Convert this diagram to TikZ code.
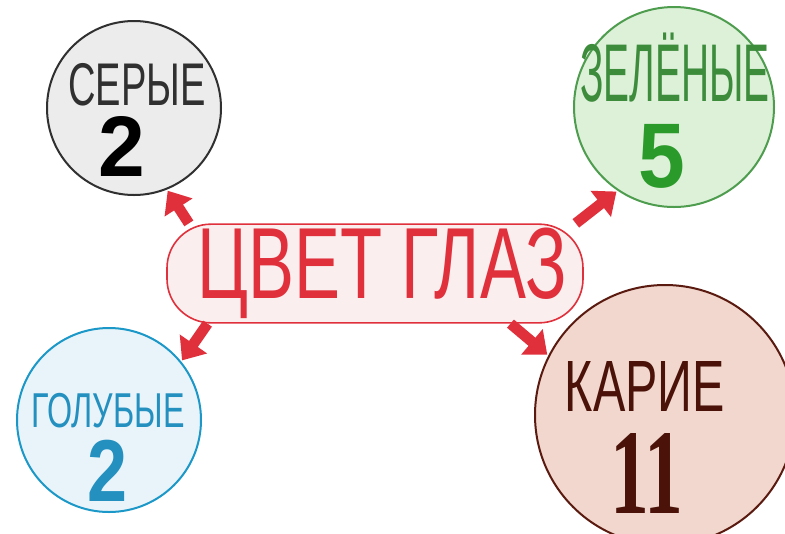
\documentclass[tikz,border=0pt]{standalone}
\usepackage{fontspec}
\usepackage{graphicx}
\setmainfont{Liberation Sans}
\newfontfamily\hand{Liberation Sans}
\newfontfamily\serifdig{Liberation Serif}
\usetikzlibrary{arrows.meta}
\definecolor{redc}{HTML}{E0303C}
\definecolor{boxfill}{HTML}{FBEEEE}
\definecolor{grayline}{HTML}{303030}
\definecolor{grayfill}{HTML}{ECECEC}
\definecolor{greenline}{HTML}{4E9C4E}
\definecolor{greenfill}{HTML}{DDF1D9}
\definecolor{greentext}{HTML}{3C8C3C}
\definecolor{greendig}{HTML}{2A9A2A}
\definecolor{blueline}{HTML}{1C98C8}
\definecolor{bluefill}{HTML}{E8F4F9}
\definecolor{bluetext}{HTML}{2490C0}
\definecolor{brownline}{HTML}{5A1A10}
\definecolor{brownfill}{HTML}{F1D7CD}
\definecolor{browntext}{HTML}{4A1208}
\tikzset{
  bubble/.style={circle, inner sep=0pt, line width=1.5pt},
  lbl/.style={inner sep=0pt, anchor=center},
  redarrow/.style={draw=redc, line width=8pt, -{Triangle[width=24pt,length=15pt]}, shorten >=1pt}
}
\begin{document}
\begin{tikzpicture}[x=0.75pt,y=-0.75pt]
\clip (0,0) rectangle (785,533);
\fill[white] (0,0) rectangle (785,533);
% circles
\node[bubble, draw=grayline, fill=grayfill, minimum size=130.5pt] (gray) at (134,108) {};
\node[bubble, draw=greenline, fill=greenfill, minimum size=150pt] (green) at (674,107) {};
\node[bubble, draw=blueline, fill=bluefill, minimum size=138pt] (blue) at (109,420) {};
\node[bubble, draw=brownline, fill=brownfill, minimum size=195pt] (brown) at (665,415) {};
% central box
\node[draw=redc, fill=boxfill, line width=1.2pt, rounded corners=33pt, minimum width=312pt, minimum height=74pt, inner sep=0pt] (box) at (375,273.5) {};
\node[lbl, text=redc] (title) at (382,273) {\resizebox*{277pt}{68pt}{\hand ЦВЕТ ГЛАЗ}};
% labels
\node[lbl, text=grayline] (grayname) at (137,85) {\resizebox*{103pt}{32pt}{\hand СЕРЫЕ}};
\node[lbl, text=black] (graynum) at (122,146) {\resizebox*{35pt}{45pt}{\bfseries 2}};
\node[lbl, text=greentext] (greenname) at (675,68) {\resizebox*{142pt}{52pt}{\hand ЗЕЛЁНЫЕ}};
\node[lbl, text=greendig] (greennum) at (662,156) {\resizebox*{35pt}{48pt}{\bfseries 5}};
\node[lbl, text=bluetext] (bluename) at (108,411) {\resizebox*{115pt}{26pt}{\hand ГОЛУБЫЕ}};
\node[lbl, text=bluetext] (bluenum) at (108,471) {\resizebox*{30pt}{46pt}{\bfseries 2}};
\node[lbl, text=browntext] (brownname) at (645,386) {\resizebox*{120pt}{37.5pt}{\hand КАРИЕ}};
\node[lbl, text=browntext] (brownnum) at (647,473) {\resizebox*{55pt}{60pt}{\serifdig\bfseries 11}};
% arrow anchors
\coordinate (t1) at ([xshift=17pt]box.north west);
\coordinate (t2) at ([xshift=-6pt]box.north east);
\coordinate (t3) at ([xshift=31pt]box.south west);
\coordinate (t4) at ([xshift=-55pt]box.south east);
\draw[redarrow] (t1) -- (gray.-68);
\draw[redarrow] (t2) -- (green.236);
\draw[redarrow] (t3) -- (blue.39);
\draw[redarrow] (t4) -- (brown.153);
\end{tikzpicture}
\end{document}
